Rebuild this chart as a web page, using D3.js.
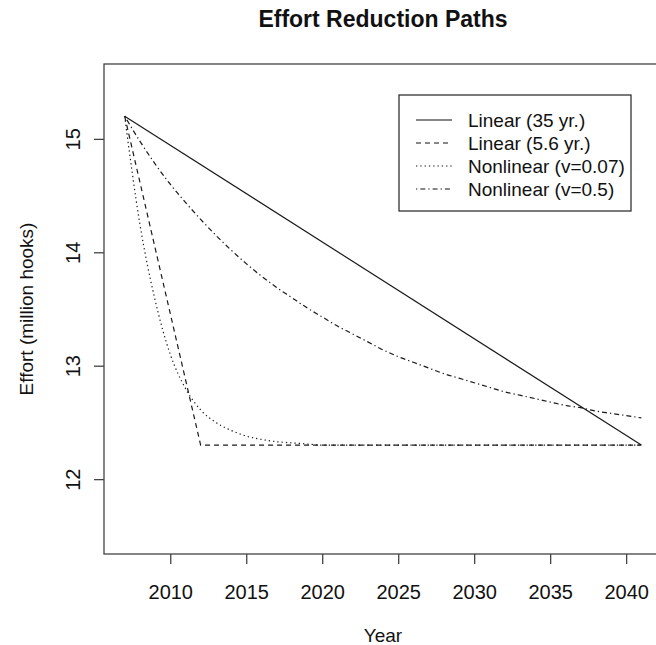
<!DOCTYPE html>
<html>
<head>
<meta charset="utf-8">
<script src="https://cdn.jsdelivr.net/npm/d3@7"></script>
<style>
  body { margin: 0; background: #fff; }
  svg { display: block; font-family: Arial, "Liberation Sans", sans-serif; }
</style>
</head>
<body>
<script>
// donnees
const linear35Years = [2007, 2041];
const linear35Effort = [15.2, 12.3];

const linear56Years = [2007, 2012, 2041];
const linear56Effort = [15.2, 12.3, 12.3];

const nlYears = [2007, 2008, 2009, 2010, 2011, 2012, 2013, 2014, 2015, 2016, 2017,
  2018, 2019, 2020, 2021, 2022, 2023, 2024, 2025, 2026, 2027, 2028, 2029, 2030,
  2031, 2032, 2033, 2034, 2035, 2036, 2037, 2038, 2039, 2040, 2041];
const nl007Effort = [15.2, 14.25, 13.58, 13.1, 12.8, 12.61, 12.5, 12.43, 12.38, 12.35,
  12.33, 12.32, 12.31, 12.3, 12.3, 12.3, 12.3, 12.3, 12.3, 12.3, 12.3, 12.3, 12.3,
  12.3, 12.3, 12.3, 12.3, 12.3, 12.3, 12.3, 12.3, 12.3, 12.3, 12.3, 12.3];
const nl05Effort = [15.2, 14.98, 14.78, 14.6, 14.44, 14.29, 14.15, 14.02, 13.9, 13.79,
  13.69, 13.6, 13.51, 13.43, 13.35, 13.28, 13.21, 13.14, 13.08, 13.03, 12.98, 12.93,
  12.89, 12.85, 12.81, 12.77, 12.74, 12.71, 12.68, 12.65, 12.63, 12.6, 12.58, 12.56, 12.54];

const xTicks = [2010, 2015, 2020, 2025, 2030, 2035, 2040];
const yTicks = [12, 13, 14, 15];
const legendLabels = ["Linear (35 yr.)", "Linear (5.6 yr.)", "Nonlinear (v=0.07)", "Nonlinear (v=0.5)"];

const width = 656, height = 645;
const plotLeft = 104, plotRight = 662, plotTop = 64, plotBottom = 554;

const svg = d3.select("body").append("svg")
  .attr("width", width)
  .attr("height", height);

// xlim 2007-2041, ylim 11.5-15.5, avec l'extension de 4% de R
const x = d3.scaleLinear().domain([2005.64, 2042.36]).range([plotLeft, plotRight]);
const y = d3.scaleLinear().domain([11.34, 15.66]).range([plotBottom, plotTop]);

const dashes = [null, "5,4", "1.3,3", "1.3,3,5,3"];

const series = [
  { xs: linear35Years, ys: linear35Effort, curve: d3.curveLinear },
  { xs: linear56Years, ys: linear56Effort, curve: d3.curveLinear },
  { xs: nlYears, ys: nl007Effort, curve: d3.curveMonotoneX },
  { xs: nlYears, ys: nl05Effort, curve: d3.curveMonotoneX },
];

series.forEach((s, i) => {
  const line = d3.line()
    .x((d) => x(d))
    .y((d, j) => y(s.ys[j]))
    .curve(s.curve);
  svg.append("path")
    .attr("d", line(s.xs))
    .attr("fill", "none")
    .attr("stroke", "#1a1a1a")
    .attr("stroke-width", 1.2)
    .attr("stroke-dasharray", dashes[i]);
});

// cadre
svg.append("rect")
  .attr("x", plotLeft)
  .attr("y", plotTop)
  .attr("width", plotRight - plotLeft)
  .attr("height", plotBottom - plotTop)
  .attr("fill", "none")
  .attr("stroke", "#444")
  .attr("stroke-width", 1.3);

// axe x
const xAxis = svg.append("g")
  .attr("transform", `translate(0,${plotBottom})`)
  .call(d3.axisBottom(x).tickValues(xTicks).tickSize(10).tickFormat(d3.format("d")));
xAxis.select(".domain").remove();
xAxis.selectAll("line").attr("stroke", "#444").attr("stroke-width", 1.3);
xAxis.selectAll("text")
  .attr("y", 0)
  .attr("dy", 0)
  .attr("transform", "translate(0,45)")
  .style("font-size", "20px")
  .attr("fill", "#111");

// axe y
const yAxis = svg.append("g")
  .attr("transform", `translate(${plotLeft},0)`)
  .call(d3.axisLeft(y).tickValues(yTicks).tickSize(10).tickFormat(d3.format("d")));
yAxis.select(".domain").remove();
yAxis.selectAll("line").attr("stroke", "#444").attr("stroke-width", 1.3);
yAxis.selectAll("text")
  .attr("x", 0)
  .attr("dy", 0)
  .attr("text-anchor", "middle")
  .attr("transform", "translate(-24,0) rotate(-90)")
  .style("font-size", "20px")
  .attr("fill", "#111");

// titres
svg.append("text")
  .text("Effort Reduction Paths")
  .attr("x", (plotLeft + plotRight) / 2)
  .attr("y", 27)
  .attr("text-anchor", "middle")
  .style("font-size", "23px")
  .style("font-weight", "bold")
  .attr("fill", "#111");

svg.append("text")
  .text("Year")
  .attr("x", (plotLeft + plotRight) / 2)
  .attr("y", 642)
  .attr("text-anchor", "middle")
  .style("font-size", "19px")
  .attr("fill", "#111");

svg.append("text")
  .text("Effort (million hooks)")
  .attr("transform", `translate(33,${(plotTop + plotBottom) / 2}) rotate(-90)`)
  .attr("text-anchor", "middle")
  .style("font-size", "19px")
  .attr("fill", "#111");

// legende
const legend = svg.append("g");
legend.append("rect")
  .attr("x", 399)
  .attr("y", 95)
  .attr("width", 232)
  .attr("height", 116)
  .attr("fill", "#fff")
  .attr("stroke", "#222")
  .attr("stroke-width", 1.2);

legendLabels.forEach((label, i) => {
  const ly = 120 + i * 23;
  legend.append("line")
    .attr("x1", 416)
    .attr("x2", 452)
    .attr("y1", ly)
    .attr("y2", ly)
    .attr("stroke", "#111")
    .attr("stroke-width", 1.2)
    .attr("stroke-dasharray", dashes[i]);
  legend.append("text")
    .text(label)
    .attr("x", 468)
    .attr("y", ly + 7)
    .style("font-size", "19px")
    .attr("fill", "#111");
});
</script>
</body>
</html>
